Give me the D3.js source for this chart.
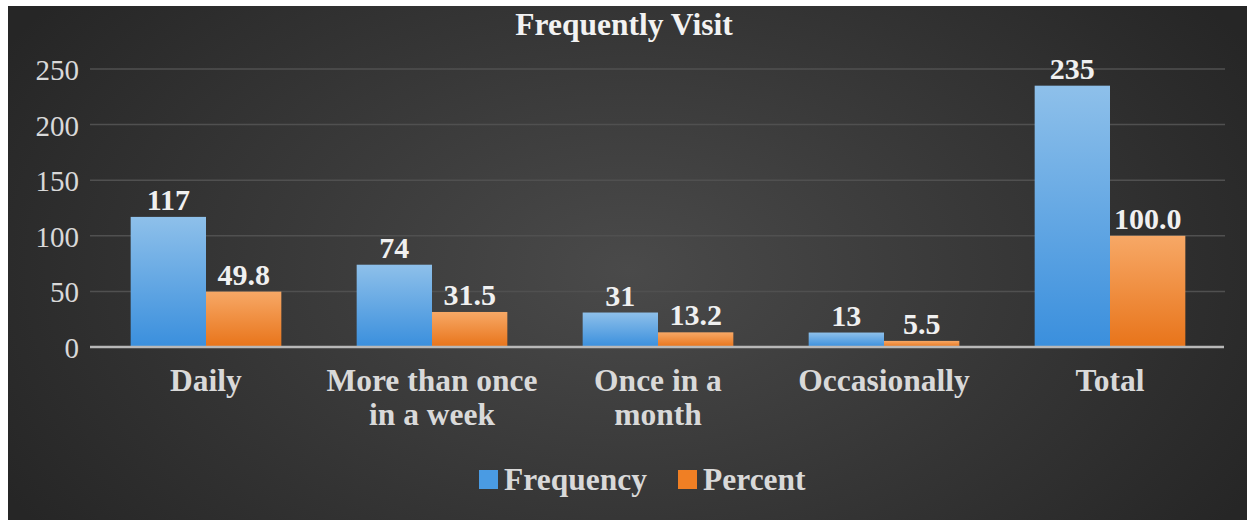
<!DOCTYPE html>
<html>
<head>
<meta charset="utf-8">
<script src="https://cdn.jsdelivr.net/npm/d3@7"></script>
<style>
  html, body { margin: 0; padding: 0; background: #ffffff; }
  svg { display: block; }
  svg text { font-family: "Liberation Serif", "Times New Roman", Times, serif; }
</style>
</head>
<body>
<svg id="chart" width="1247" height="520"></svg>
<script>
// Visit frequency: respondent counts and share of total
const categories = [["Daily"], ["More than once", "in a week"], ["Once in a", "month"], ["Occasionally"], ["Total"]];
const frequency = [117, 74, 31, 13, 235];
const percent = [49.8, 31.5, 13.2, 5.5, 100.0];
const seriesNames = ["Frequency", "Percent"];
const yTicks = [0, 50, 100, 150, 200, 250];

const svg = d3.select("#chart");
const W = 1247, H = 520;

const defs = svg.append("defs");
const bg = defs.append("radialGradient").attr("id", "bg")
  .attr("gradientUnits", "userSpaceOnUse")
  .attr("cx", 628).attr("cy", 270).attr("r", 720)
  .attr("gradientTransform", "translate(628,270) scale(1,0.62) translate(-628,-270)");
bg.append("stop").attr("offset", "0%").attr("stop-color", "#4a4a4a");
bg.append("stop").attr("offset", "100%").attr("stop-color", "#262626");

function barGrad(id, top, bottom) {
  const g = defs.append("linearGradient").attr("id", id)
    .attr("x1", 0).attr("y1", 0).attr("x2", 0).attr("y2", 1);
  g.append("stop").attr("offset", "0%").attr("stop-color", top);
  g.append("stop").attr("offset", "100%").attr("stop-color", bottom);
}
barGrad("gBlue", "#8ec0ea", "#3a8fdd");
barGrad("gOrange", "#f7a866", "#e8741a");
const fills = ["url(#gBlue)", "url(#gOrange)"];
const swatch = ["#4a9be3", "#f07f24"];

// chart area
svg.append("rect").attr("x", 8).attr("y", 6).attr("width", W - 8).attr("height", H - 6)
  .attr("fill", "url(#bg)");

const y = d3.scaleLinear().domain([0, 250]).range([347, 69]);
const x0 = d3.scaleBand().domain(d3.range(categories.length))
  .range([93, 1223]).paddingInner(1 / 3).paddingOuter(1 / 6);
const x1 = d3.scaleBand().domain([0, 1]).range([0, x0.bandwidth()]);

// gridlines
svg.append("g").selectAll("line").data(yTicks.filter(d => d > 0)).join("line")
  .attr("x1", 90).attr("x2", 1225)
  .attr("y1", d => y(d)).attr("y2", d => y(d))
  .attr("stroke", "#505050").attr("stroke-width", 1.5);

// y tick labels
const yAxis = d3.axisLeft(y).tickValues(yTicks).tickSize(0).tickPadding(0);
const ya = svg.append("g").attr("transform", "translate(79,0)").call(yAxis);
ya.select(".domain").remove();
ya.attr("font-family", null).attr("font-size", null);
ya.selectAll("text")
  .attr("fill", "#d9d9d9").style("font-size", "29px")
  .attr("dy", "0.36em");

// bars
const rows = categories.map((c, i) => [frequency[i], percent[i]]);
const groups = svg.append("g").selectAll("g").data(rows).join("g")
  .attr("transform", (d, i) => `translate(${x0(i)},0)`);
groups.selectAll("rect").data(d => d.map((v, k) => ({ v, k }))).join("rect")
  .attr("x", d => x1(d.k)).attr("width", x1.bandwidth())
  .attr("y", d => y(d.v)).attr("height", d => y(0) - y(d.v))
  .attr("fill", d => fills[d.k]);

// value labels
groups.selectAll("text").data(d => d.map((v, k) => ({ v, k }))).join("text")
  .attr("x", d => x1(d.k) + x1.bandwidth() / 2)
  .attr("y", d => y(d.v) - 7)
  .attr("text-anchor", "middle")
  .style("font-weight", "bold").style("font-size", "30px")
  .attr("fill", "#f0f0f0")
  .text(d => d.k === 0 ? d3.format("d")(d.v) : d3.format(".1f")(d.v));

// x axis line
svg.append("line").attr("x1", 90).attr("x2", 1224)
  .attr("y1", y(0)).attr("y2", y(0))
  .attr("stroke", "#b8b8b8").attr("stroke-width", 2.5);

// category labels
const cat = svg.append("g").selectAll("text").data(categories).join("text")
  .attr("x", (d, i) => x0(i) + x0.bandwidth() / 2)
  .attr("y", 391)
  .attr("text-anchor", "middle")
  .style("font-weight", "bold").style("font-size", "31.5px")
  .attr("fill", "#d9d9d9");
cat.selectAll("tspan").data(d => d).join("tspan")
  .attr("x", function () { return d3.select(this.parentNode).attr("x"); })
  .attr("dy", (d, j) => j === 0 ? 0 : 34)
  .text(d => d);

// title
svg.append("text").attr("x", 624).attr("y", 35)
  .attr("text-anchor", "middle")
  .style("font-weight", "bold").style("font-size", "31.5px")
  .attr("fill", "#f2f2f2").text("Frequently Visit");

// legend
const legendX = [479, 678];
const lg = svg.append("g").selectAll("g").data(seriesNames).join("g")
  .attr("transform", (d, i) => `translate(${legendX[i]},470)`);
lg.append("rect").attr("width", 19).attr("height", 19).attr("fill", (d, i) => swatch[i]);
lg.append("text").attr("x", 25).attr("y", 20)
  .style("font-weight", "bold").style("font-size", "31.5px")
  .attr("fill", "#d9d9d9").text(d => d);
</script>
</body>
</html>
